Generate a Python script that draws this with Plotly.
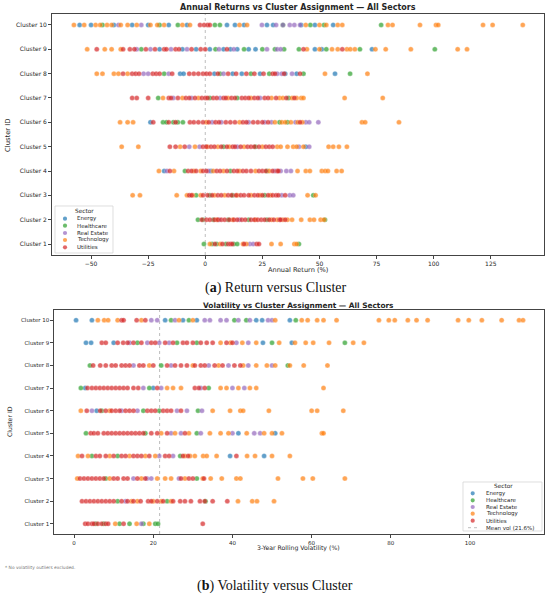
import plotly.graph_objects as go

# --- data -------------------------------------------------------------
sectors = ["Energy", "Healthcare", "Real Estate", "Technology", "Utilities"]
sector_colors = ["#1f77b4", "#2ca02c", "#9467bd", "#ff7f0e", "#d62728"]
cluster_ids = [1, 2, 3, 4, 5, 6, 7, 8, 9, 10]
cluster_labels = ["Cluster %d" % c for c in cluster_ids]

# annual return (%) per sector, one sublist per cluster 1..10
ret_energy = [
    [], [], [], [-18.0, 2.5], [44.0], [-24.0], [],
    [-11.0, -9.5, 4.0, 12.0, 16.0, 24.0, 35.0, 40.0, 56.8],
    [-20.0, -10.0, -4.0, 2.0, 8.0, 11.0, 14.0, 19.0, 22.0, 48.0, 51.0, 73.0],
    [-55.0, -50.0, -40.0, -32.0, -25.0, -16.0, -8.0, 9.5, 13.0, 17.0, 27.0, 29.7, 42.0, 48.0, 56.0],
]
ret_health = [
    [-0.6, 3.0, 5.0, 9.0, 12.5, 14.0, 41.0],
    [-3.2, -1.0, 3.5, 10.0, 19.0, 27.0, 52.4],
    [-4.0, 2.0, 12.0, 26.0, 47.3],
    [-8.9, 11.0, 27.0],
    [8.0, 22.0],
    [-18.5, -17.0, -14.0, -12.0, -9.8, 32.5, 36.0],
    [-20.6, 2.0, 14.0, 36.5],
    [-18.0, 6.5, 20.0, 28.0, 43.0, 63.4],
    [-28.0, 4.5, 17.0, 25.0, 30.5, 34.5, 41.0, 53.0, 67.7, 100.5],
    [-45.0, -20.0, -12.0, 4.2, 6.4, 34.0, 46.0, 52.0, 77.0],
]
ret_realestate = [
    [19.5, 21.0],
    [6.0, 15.0],
    [33.5, 37.0, 38.5],
    [-16.8, 1.5, 30.5, 33.0, 35.5, 37.5],
    [-7.0, -2.5, 14.0, 41.0, 45.5],
    [3.0, 7.0, 19.0, 26.0, 29.0, 39.5, 44.0, 45.5, 49.5],
    [-14.0, -6.0, 6.5, 24.0],
    [-27.0, -25.0, -16.0, 8.0, 31.5, 33.5, 38.0],
    [-30.0, -24.0, -15.0, -8.0, 6.0, 12.5, 27.0, 31.5, 33.0],
    [-38.0, -28.0, 24.8, 31.0, 34.0, 37.0, 39.0, 41.5],
]
ret_tech = [
    [2.0, 6.5, 16.5, 18.0, 29.0, 33.0, 39.0, 40.0],
    [5.0, 12.0, 22.0, 29.0, 31.5, 34.0, 36.0, 38.0, 42.0, 45.8, 47.6, 50.5, 52.0],
    [-31.8, -28.6, -12.5, -8.0, -5.5, -2.0, 4.0, 8.5, 14.0, 20.0, 24.0, 28.5, 44.8, 48.3],
    [-20.3, -13.7, -5.0, -2.0, 3.5, 8.0, 15.0, 22.0, 28.0, 40.4, 44.0, 45.8, 51.0, 52.5, 53.7, 57.5, 59.7],
    [-36.6, -29.3, -11.0, -4.5, 1.0, 5.5, 10.5, 17.0, 25.0, 31.5, 33.0, 36.0, 38.5, 40.0, 43.0, 54.0, 56.0, 58.5, 62.0],
    [-37.3, -34.0, -31.6, 0.5, 15.0, 30.5, 33.5, 35.0, 37.5, 40.5, 42.5, 68.6, 70.0, 84.8],
    [-18.5, -10.0, -3.0, 10.0, 20.0, 29.0, 32.5, 34.0, 38.0, 40.0, 42.0, 43.0, 61.0, 77.7],
    [-47.5, -45.0, -40.0, -38.0, -34.0, 52.4, 71.0],
    [-51.7, -44.0, -41.0, -37.0, 44.5, 50.0, 55.5, 58.0, 62.0, 63.5, 65.5, 74.5, 79.0, 90.0, 110.5, 114.6],
    [-57.5, -53.0, -48.0, -46.0, -43.0, -41.0, -37.0, -34.0, -30.0, -24.0, -21.0, -18.0, -10.0, -6.7,
     15.0, 18.3, 44.0, 50.0, 53.0, 58.0, 60.0, 80.0, 82.0, 94.0, 101.0, 102.0, 121.6, 125.8, 139.0],
]
ret_util = [
    [4.2, 7.5, 10.0, 11.0, 11.8, 17.0, 22.5, 23.5],
    [-1.5, 0.5, 2.0, 4.0, 5.5, 7.0, 8.5, 10.5, 12.5, 14.0, 16.0, 17.5, 20.0, 21.5, 23.0, 24.5, 26.0,
     28.0, 30.0, 32.5, 33.0, 35.0],
    [-7.0, -6.0, -1.0, 1.0, 3.0, 5.5, 7.0, 10.0, 11.5, 13.5, 15.5, 17.0, 19.0, 21.5, 23.0, 25.0, 27.5,
     29.5, 31.0, 32.0, 35.0],
    [-15.5, -7.5, -6.0, -4.0, -1.0, 0.5, 5.0, 6.5, 9.5, 12.5, 14.0, 16.5, 18.0, 20.0, 23.5, 25.0, 26.5,
     29.5, 31.5, 32.0],
    [-15.5, -13.0, -9.0, -1.0, 0.5, 2.5, 4.0, 7.0, 9.5, 12.0, 13.0, 15.5, 18.5, 20.0, 21.5, 23.5, 26.5,
     28.0, 29.5],
    [-22.8, -16.0, -13.0, -6.7, -5.0, -3.0, -1.0, 1.5, 4.5, 6.0, 9.0, 11.0, 13.0, 16.5, 18.0, 21.0, 23.0,
     25.0, 27.5, 41.5],
    [-32.0, -30.0, -25.0, -16.0, -15.0, -12.0, -8.5, -7.0, -4.5, -1.5, 0.0, 1.0, 3.5, 5.0, 8.0, 9.0, 11.5,
     13.0, 16.0, 17.5, 19.0, 21.5, 23.0, 26.0, 27.5, 31.0, 35.5, 39.0],
    [-36.0, -32.0, -30.5, -29.0, -23.0, -21.5, -20.0, -14.5, -7.0, -5.0, -3.0, -1.0, 0.5, 2.0, 5.5, 10.0,
     13.5, 18.0, 21.5, 25.5, 29.5, 30.5, 34.5, 41.5],
    [-47.5, -36.0, -33.0, -31.0, -26.0, -22.0, -18.0, -17.0, -13.0, -11.5, -6.0, -2.0, 0.0, 9.5, 43.0, 60.0],
    [-2.3, -0.5, 1.0, 2.0],
]

# 3-year rolling volatility (%) per sector, one sublist per cluster 1..10
vol_energy = [
    [], [], [], [39.4, 48.0], [41.5, 50.8], [5.7], [2.8, 20.0], [],
    [3.0, 4.3, 10.0, 47.7, 55.0],
    [0.5, 4.5, 23.0, 27.5, 31.0, 46.0, 47.5, 54.5],
]
vol_health = [
    [5.5, 7.5, 11.5, 14.0, 17.5, 20.5, 21.2],
    [11.0, 23.5, 33.2],
    [8.0, 31.0],
    [4.5, 11.0, 26.8],
    [3.0, 18.0, 31.0],
    [7.0, 17.5, 21.5, 31.3],
    [1.7, 19.0, 34.0],
    [4.0, 22.0, 54.0],
    [16.0, 26.0, 31.0, 50.0, 68.4],
    [24.5, 29.0, 40.5, 43.5, 56.0],
]
vol_realestate = [
    [17.0],
    [13.0],
    [15.0, 18.4, 19.5, 26.5],
    [21.5, 25.0],
    [24.5, 27.0, 32.0, 40.0, 45.5, 47.0],
    [4.5, 12.0, 16.0, 26.0, 28.5, 32.3],
    [17.5, 22.0, 32.0, 40.0, 43.0],
    [15.0, 24.5, 34.0, 39.0, 44.0, 50.0],
    [14.0, 18.5, 21.5, 24.0, 41.0, 44.0],
    [19.5, 21.0, 25.5, 33.0, 34.3, 37.0, 38.5, 41.5, 44.4, 49.0, 50.0],
]
vol_tech = [
    [10.4, 15.8, 19.0],
    [14.5, 16.0, 20.0, 22.0, 24.5, 41.4, 45.0, 46.2, 50.5],
    [0.8, 9.0, 17.0, 21.0, 23.0, 24.5, 28.0, 32.5, 34.5, 37.3, 41.0, 42.0, 51.5, 57.8, 60.3, 68.4],
    [1.0, 3.5, 9.0, 14.0, 18.0, 20.5, 28.0, 29.3, 30.5, 32.6, 33.5, 36.0, 43.7, 45.7, 50.0, 54.5],
    [22.0, 25.5, 29.0, 34.3, 37.0, 39.0, 43.6, 48.0, 50.0, 52.5, 62.6, 63.0],
    [1.7, 9.0, 35.0, 39.4, 42.0, 42.7, 49.2, 60.0, 61.4, 68.0],
    [23.5, 25.0, 27.0, 37.0, 38.5, 41.5, 44.4, 46.0, 63.0],
    [19.0, 30.0, 36.5, 42.7, 46.0, 48.7, 50.8, 54.5, 58.0, 64.0],
    [37.0, 39.5, 42.5, 46.0, 51.8, 55.8, 58.5, 60.4, 64.4, 70.5, 73.2],
    [6.0, 7.6, 8.6, 11.0, 17.0, 26.5, 30.0, 50.8, 57.5, 59.0, 61.4, 63.0, 66.3, 77.0, 79.5, 81.0,
     84.3, 86.5, 89.3, 97.0, 99.7, 103.0, 108.0, 112.4, 113.4],
]
vol_util = [
    [2.8, 3.5, 4.5, 5.0, 6.0, 7.0, 8.0, 8.6, 12.5, 32.5],
    [2.0, 3.0, 4.0, 5.0, 6.0, 7.0, 8.0, 9.0, 10.0, 12.0, 13.5, 15.0, 16.8, 18.7, 19.5, 21.0, 22.5,
     25.0, 26.8, 28.0, 29.5, 31.8, 33.0, 35.0, 38.7],
    [1.5, 2.5, 3.5, 4.5, 5.5, 6.5, 7.5, 10.0, 11.0, 12.5, 13.5, 16.0, 18.0, 27.0, 29.0, 30.0, 32.8],
    [2.0, 5.5, 6.5, 8.0, 10.0, 12.0, 13.0, 15.0, 16.0, 17.0, 19.0, 23.0, 24.0, 27.5, 28.8, 41.0],
    [4.2, 5.0, 6.0, 7.5, 8.5, 9.5, 10.5, 11.5, 12.5, 13.5, 14.5, 15.5, 16.5, 17.5, 19.5, 21.0, 23.5, 28.0],
    [3.2, 6.6, 8.0, 9.5, 10.5, 11.5, 13.0, 14.0, 15.0, 18.5, 19.5, 20.5, 22.5, 23.5, 24.5, 27.0],
    [3.4, 4.5, 5.5, 6.5, 7.5, 8.5, 9.5, 10.5, 11.5, 12.5, 13.5, 15.0, 16.2, 21.0, 30.5, 31.5, 33.0],
    [4.8, 6.6, 8.0, 9.5, 10.5, 12.0, 13.0, 14.0, 16.5, 17.5, 20.0, 23.5, 25.5, 27.0, 28.5, 30.5, 32.0,
     33.0, 35.5, 37.5, 40.5, 42.0],
    [7.0, 8.0, 11.0, 12.4, 13.5, 15.0, 17.0, 19.5, 20.5, 23.0, 25.0, 27.5, 28.5, 30.0, 32.0, 33.5, 35.0,
     38.5, 40.0],
    [12.0, 12.5, 15.8, 18.0],
]

mean_vol = 21.6
ret_ticks = [-50, -25, 0, 25, 50, 75, 100, 125]
vol_ticks = [0, 20, 40, 60, 80, 100]

W, H = 550, 599
FONT = "DejaVu Sans"
INK = "#262626"


def px(x, y):
    # pixel position -> paper coords
    return x / W, 1 - y / H


fig = go.Figure()

for data, xa, ya in [
    ([ret_energy, ret_health, ret_realestate, ret_tech, ret_util], "x", "y"),
    ([vol_energy, vol_health, vol_realestate, vol_tech, vol_util], "x2", "y2"),
]:
    for name, color, rows in zip(sectors, sector_colors, data):
        xs, ys = [], []
        for cid, vals in zip(cluster_ids, rows):
            xs += vals
            ys += [cid] * len(vals)
        fig.add_trace(go.Scatter(
            x=xs, y=ys, mode="markers", name=name, xaxis=xa, yaxis=ya,
            showlegend=False,
            marker=dict(color=color, size=5.0, opacity=0.7,
                        line=dict(width=0.3, color="white")),
        ))

shapes = []

# reference lines (zero return / mean volatility)
for xv, xr, yr in [(0, "x", "y domain"), (mean_vol, "x2", "y2 domain")]:
    shapes.append(dict(type="line", xref=xr, yref=yr, x0=xv, x1=xv, y0=0, y1=1,
                       layer="below", line=dict(color="#a0a0a0", width=0.7, dash="dot")))

axis_common = dict(showline=True, linecolor="#444", linewidth=0.8, mirror=True,
                   showgrid=False, zeroline=False, ticks="outside", ticklen=3,
                   tickwidth=0.7, tickcolor="#444")

fig.update_layout(
    width=W, height=H, autosize=False,
    margin=dict(l=0, r=0, t=0, b=0),
    plot_bgcolor="white", paper_bgcolor="white",
    font=dict(family=FONT, color=INK),
    xaxis=dict(domain=[52 / W, 544 / W], anchor="y", range=[-67.1, 148.3],
               tickvals=ret_ticks,
               ticktext=[str(t).replace("-", "\u2212") for t in ret_ticks],
               tickfont=dict(size=6, color=INK), **axis_common),
    yaxis=dict(domain=[1 - 255 / H, 1 - 14 / H], anchor="x", range=[0.55, 10.45],
               tickvals=cluster_ids, ticktext=cluster_labels,
               tickfont=dict(size=6, color=INK), **axis_common),
    xaxis2=dict(domain=[54.3 / W, 544 / W], anchor="y2", range=[-5.0, 118.7],
                tickvals=vol_ticks, ticktext=[str(t) for t in vol_ticks],
                tickfont=dict(size=5.5, color=INK), **axis_common),
    yaxis2=dict(domain=[1 - 534 / H, 1 - 310 / H], anchor="x2", range=[0.55, 10.45],
                tickvals=cluster_ids, ticktext=cluster_labels,
                tickfont=dict(size=5.5, color=INK), **axis_common),
)

ann = []


def text(x, y, s, size, **kw):
    xp, yp = px(x, y)
    d = dict(x=xp, y=yp, xref="paper", yref="paper", text=s, showarrow=False,
             font=dict(family=FONT, size=size, color=INK),
             xanchor="center", yanchor="middle")
    d.update(kw)
    ann.append(d)


# titles and axis labels
text(298, 8, "<b>Annual Returns vs Cluster Assignment \u2014 All Sectors</b>", 8)
text(298, 270, "Annual Return (%)", 6.6)
text(8, 135, "Cluster ID", 6.8, textangle=-90)
text(299, 305, "<b>Volatility vs Cluster Assignment \u2014 All Sectors</b>", 7.4)
text(299, 548, "3-Year Rolling Volatility (%)", 6.2)
text(9, 422, "Cluster ID", 6.2, textangle=-90)
text(3, 567.5, "* No volatility outliers excluded.", 4.4, xanchor="left",
     font=dict(family=FONT, size=4.4, color="#777"))

# sub-figure captions
cap_font = dict(family="Liberation Serif", size=14, color="#111")
text(275, 288, "(<b>a</b>) Return versus Cluster", 14, font=cap_font)
text(275, 586, "(<b>b</b>) Volatility versus Cluster", 14, font=cap_font)


def legend_box(x0, y0, x1, y1, title_xy, mark_x, text_x, rows, extra_line=None):
    a0, b0 = px(x0, y0)
    a1, b1 = px(x1, y1)
    shapes.append(dict(type="rect", xref="paper", yref="paper", x0=a0, x1=a1,
                       y0=b1, y1=b0, fillcolor="rgba(255,255,255,0.85)",
                       line=dict(color="#d0d0d0", width=0.7)))
    text(title_xy[0], title_xy[1], "Sector", 5.8)
    for name, color, yy in zip(sectors, sector_colors, rows):
        c0, d0 = px(mark_x - 2.1, yy - 2.1)
        c1, d1 = px(mark_x + 2.1, yy + 2.1)
        shapes.append(dict(type="circle", xref="paper", yref="paper",
                           x0=c0, x1=c1, y0=d1, y1=d0, fillcolor=color,
                           opacity=0.7, line=dict(width=0)))
        text(text_x, yy, name, 5.5, xanchor="left")
    if extra_line:
        lx0, lx1, ly, label = extra_line
        e0, f0 = px(lx0, ly)
        e1, _ = px(lx1, ly)
        shapes.append(dict(type="line", xref="paper", yref="paper", x0=e0, x1=e1,
                           y0=f0, y1=f0, line=dict(color="#a0a0a0", width=0.7, dash="dot")))
        text(text_x, ly, label, 5.5, xanchor="left")


legend_box(55, 206, 113, 253, (84, 210.7), 65, 75,
           [218.7, 225.7, 233.0, 240.0, 247.3])
legend_box(463, 482, 542, 531, (503, 486.3), 472.7, 484,
           [493.3, 500.3, 507.0, 513.7, 520.7],
           extra_line=(468, 478, 527.7, "Mean vol (%.1f%%)" % mean_vol))

fig.update_layout(annotations=ann, shapes=shapes)

# page body has an 8px default margin; drop it so the figure fills the window
fig.write_html("out.html", config=dict(displayModeBar=False),
               post_script="document.body.style.margin = '0';")
